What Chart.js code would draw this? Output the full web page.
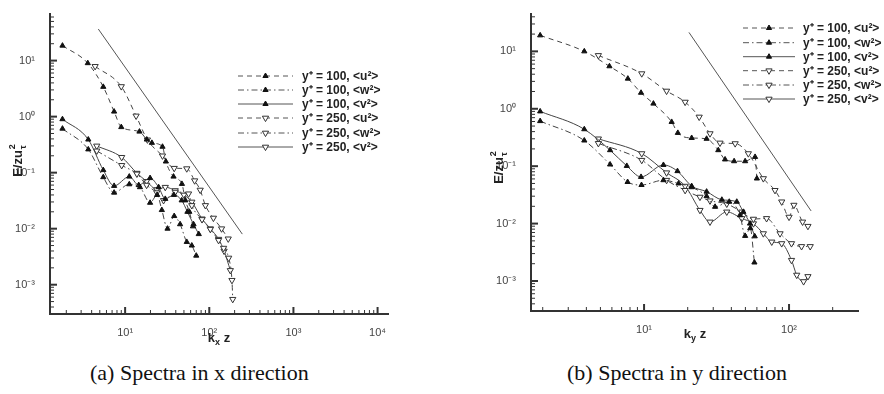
<!DOCTYPE html>
<html><head><meta charset="utf-8">
<script src="https://cdn.jsdelivr.net/npm/chart.js@4.4.1/dist/chart.umd.min.js"></script>
<style>
body{margin:0;background:#fff;width:884px;height:394px;overflow:hidden;position:relative}
#ca{position:absolute;left:0;top:0;width:400px;height:345px}
#cb{position:absolute;left:440px;top:0;width:444px;height:345px}
.cap{position:absolute;top:360px;font-family:"Liberation Serif","Times New Roman",serif;font-size:22px;color:#111;white-space:nowrap}
</style></head><body>
<canvas id="ca" width="400" height="345"></canvas>
<canvas id="cb" width="444" height="345"></canvas>
<div class="cap" style="left:90px">(a) Spectra in x direction</div>
<div class="cap" style="left:567px">(b) Spectra in y direction</div>
<script>
// ---------- Legend labels ----------
const seriesLabels = ["y\u207A = 100, <u\u00B2>", "y\u207A = 100, <w\u00B2>", "y\u207A = 100, <v\u00B2>",
                      "y\u207A = 250, <u\u00B2>", "y\u207A = 250, <w\u00B2>", "y\u207A = 250, <v\u00B2>"];

// ---------- Panel (a): spectra in x direction ----------
const a_u100_k = [1.8, 3.6, 5.5, 7.4, 9.0, 14.8, 18.1, 20.8, 27.8, 30.5, 37.6, 47.3, 52, 58, 64];
const a_u100_E = [18.5, 9.0, 3.4, 1.23, 0.65, 0.54, 0.39, 0.34, 0.29, 0.158, 0.085, 0.063, 0.032, 0.02, 0.011];
const a_w100_k = [1.8, 3.65, 5.5, 7.4, 11.2, 15, 19.8, 24, 27.3, 31.9, 38.3, 45, 54, 62, 70];
const a_w100_E = [0.61, 0.26, 0.083, 0.044, 0.062, 0.055, 0.029, 0.04, 0.0215, 0.01, 0.0168, 0.012, 0.0058, 0.005, 0.0033];
const a_v100_k = [1.8, 3.65, 5.5, 7.4, 11.2, 14.5, 19.8, 25, 30, 38, 47, 55, 65, 75];
const a_v100_E = [0.9, 0.39, 0.111, 0.058, 0.085, 0.06, 0.08, 0.055, 0.034, 0.04, 0.032, 0.02, 0.012, 0.008];
const a_u250_k = [4.4, 9.0, 13.5, 18.4, 27.8, 38.3, 54, 67, 78, 90, 112, 140, 168];
const a_u250_E = [7.9, 3.45, 1.03, 0.386, 0.2, 0.12, 0.118, 0.072, 0.049, 0.026, 0.0155, 0.01, 0.0066];
const a_w250_k = [4.6, 9.1, 13.8, 18, 23.8, 28.6, 39.4, 56.7, 62, 82, 103, 129, 148, 170, 186, 190];
const a_w250_E = [0.245, 0.135, 0.095, 0.06, 0.044, 0.032, 0.045, 0.042, 0.026, 0.0146, 0.0098, 0.0062, 0.0045, 0.003, 0.0012, 0.00055];
const a_v250_k = [4.6, 9.1, 13.8, 18, 23.8, 30, 39.4, 50, 62, 82, 103, 129, 150, 178];
const a_v250_E = [0.3, 0.188, 0.098, 0.07, 0.05, 0.055, 0.048, 0.04, 0.03, 0.015, 0.01, 0.0065, 0.004, 0.0018];
const a_ref_k = [4.8, 247];
const a_ref_E = [36.6, 0.008];

// ---------- Panel (b): spectra in y direction ----------
const b_u100_k = [1.92, 3.87, 5.77, 7.73, 9.53, 11.6, 15.5, 17.1, 21.3, 27, 32.5, 36.2, 41.8, 49.8, 58.3, 60];
const b_u100_E = [19, 10, 5.5, 3.35, 1.9, 1.23, 0.59, 0.38, 0.31, 0.3, 0.19, 0.131, 0.122, 0.122, 0.145, 0.061];
const b_w100_k = [1.92, 3.87, 5.83, 7.7, 9.6, 13.6, 17.3, 21.3, 27, 30.9, 38.7, 45.9, 49.8, 54, 57.7];
const b_w100_E = [0.61, 0.28, 0.107, 0.053, 0.047, 0.057, 0.05, 0.043, 0.03, 0.0196, 0.024, 0.014, 0.0061, 0.0083, 0.0021];
const b_v100_k = [1.92, 3.87, 5.83, 7.6, 9.53, 13.6, 17, 21.3, 27, 34.4, 43.6, 48.4, 53.8, 58];
const b_v100_E = [0.9, 0.44, 0.19, 0.101, 0.065, 0.105, 0.082, 0.045, 0.036, 0.026, 0.024, 0.016, 0.01, 0.006];
const b_u250_k = [4.84, 9.64, 14.3, 19.2, 24, 28.5, 33.4, 42.5, 52.4, 66.5, 80, 89, 100, 108, 124, 135];
const b_u250_E = [8.5, 4.1, 2.04, 1.31, 0.72, 0.37, 0.254, 0.248, 0.166, 0.061, 0.038, 0.024, 0.013, 0.021, 0.0107, 0.009];
const b_w250_k = [4.84, 9.64, 14.3, 19.2, 24.3, 28.5, 37.2, 47.2, 56.8, 70, 86.7, 104, 122, 140];
const b_w250_E = [0.25, 0.127, 0.057, 0.038, 0.029, 0.025, 0.022, 0.016, 0.012, 0.0123, 0.0067, 0.0045, 0.004, 0.004];
const b_v250_k = [4.84, 9.64, 14.3, 19.2, 24.3, 28.5, 37.2, 47.2, 56.8, 66.5, 76, 89, 104, 113, 126, 135];
const b_v250_E = [0.30, 0.166, 0.077, 0.045, 0.0171, 0.0107, 0.016, 0.0123, 0.01, 0.0067, 0.0048, 0.0045, 0.0023, 0.00127, 0.00098, 0.0012];
const b_ref_k = [20.4, 142];
const b_ref_E = [21.4, 0.0166];

// ---------- styles ----------
const DASH = {u: [5, 4], w: [6, 3, 1.5, 3], v: []};
const SUP = {'-': '\u207B', '0': '\u2070', '1': '\u00B9', '2': '\u00B2', '3': '\u00B3', '4': '\u2074'};
const supExp = e => String(e).split('').map(c => SUP[c]).join('');

function pts(k, E) { return k.map((x, i) => ({x: x, y: E[i]})); }

function seriesDef(k, E, comp, open) {
  return {
    data: pts(k, E),
    borderColor: '#444', borderWidth: 1, borderDash: DASH[comp],
    cubicInterpolationMode: 'monotone',
    pointStyle: 'triangle', pointRotation: open ? 180 : 0,
    pointRadius: open ? 3.6 : 3, pointBorderWidth: 1,
    pointBackgroundColor: open ? '#fff' : '#111',
    pointBorderColor: open ? '#333' : '#111',
    _comp: comp, _open: open
  };
}

function buildTicks(min, max) {
  const out = [];
  for (let e = Math.floor(Math.log10(min)); e <= Math.ceil(Math.log10(max)); e++) {
    for (let m = 1; m <= 9; m++) {
      const v = m * Math.pow(10, e);
      if (v >= min * 0.999 && v <= max * 1.001) out.push({value: v, pw: m === 1, e: e});
    }
  }
  return out;
}

const deco = {
  id: 'deco',
  afterDraw(chart, args, o) {
    const ctx = chart.ctx, ca = chart.chartArea;
    ctx.save();
    // inward ticks
    ['x', 'y'].forEach(id => {
      const s = chart.scales[id];
      s.ticks.forEach(t => {
        const p = s.getPixelForValue(t.value);
        ctx.beginPath();
        ctx.strokeStyle = '#333';
        ctx.lineWidth = t.pw ? 2 : 1;
        const L = t.pw ? 7 : 4;
        if (id === 'x') { ctx.moveTo(p, ca.bottom); ctx.lineTo(p, ca.bottom - L); }
        else { ctx.moveTo(ca.left, p); ctx.lineTo(ca.left + L, p); }
        ctx.stroke();
      });
    });
    // y title: E/zu_tau^2
    ctx.fillStyle = '#222';
    ctx.translate(o.yTitle[0], o.yTitle[1]);
    ctx.rotate(-Math.PI / 2);
    ctx.font = 'bold 13px "Liberation Sans", Arial, sans-serif';
    ctx.textBaseline = 'alphabetic';
    const main = 'E/zu';
    const w1 = ctx.measureText(main).width;
    const tot = w1 + 7;
    ctx.fillText(main, -tot / 2, 5);
    ctx.font = 'bold 9px "Liberation Sans", Arial, sans-serif';
    ctx.fillText('2', -tot / 2 + w1 + 1, -2);
    ctx.fillText('\u03C4', -tot / 2 + w1 + 1, 9);
    ctx.setTransform(1, 0, 0, 1, 0, 0);
    // x title: k_? z
    ctx.font = 'bold 13px "Liberation Sans", Arial, sans-serif';
    const kw = ctx.measureText('k').width;
    ctx.font = 'bold 9px "Liberation Sans", Arial, sans-serif';
    const sw = ctx.measureText(o.xSub).width;
    ctx.font = 'bold 13px "Liberation Sans", Arial, sans-serif';
    const zw = ctx.measureText(' z').width;
    let x0 = o.xTitle[0] - (kw + sw + zw) / 2;
    const yb = o.xTitle[1] + 5;
    ctx.fillText('k', x0, yb);
    ctx.font = 'bold 9px "Liberation Sans", Arial, sans-serif';
    ctx.fillText(o.xSub, x0 + kw, yb + 3);
    ctx.font = 'bold 13px "Liberation Sans", Arial, sans-serif';
    ctx.fillText(' z', x0 + kw + sw, yb);
    // legend
    const ds = chart.data.datasets.filter(d => d._comp);
    ds.forEach((d, i) => {
      const y = o.legRows[i];
      ctx.beginPath();
      ctx.setLineDash(DASH[d._comp]);
      ctx.strokeStyle = '#555';
      ctx.lineWidth = 1;
      ctx.moveTo(o.legLine[0], y); ctx.lineTo(o.legLine[1], y);
      ctx.stroke();
      ctx.setLineDash([]);
      ctx.fillStyle = d.pointBackgroundColor;
      ctx.strokeStyle = d.pointBorderColor;
      Chart.helpers.drawPoint(ctx, {pointStyle: 'triangle', rotation: d.pointRotation, radius: d.pointRadius, borderWidth: 1},
        (o.legLine[0] + o.legLine[1]) / 2, y);
      ctx.fillStyle = '#222';
      ctx.font = 'bold 12px "Liberation Sans", Arial, sans-serif';
      ctx.textBaseline = 'middle';
      ctx.fillText(seriesLabels[i], o.legText, y + 1);
    });
    ctx.restore();
  }
};

function makeChart(id, P) {
  const datasets = [
    seriesDef(P.u100k, P.u100E, 'u', false),
    seriesDef(P.w100k, P.w100E, 'w', false),
    seriesDef(P.v100k, P.v100E, 'v', false),
    seriesDef(P.u250k, P.u250E, 'u', true),
    seriesDef(P.w250k, P.w250E, 'w', true),
    seriesDef(P.v250k, P.v250E, 'v', true),
    {data: pts(P.refk, P.refE), borderColor: '#555', borderWidth: 1, pointRadius: 0, tension: 0}
  ];
  const tickFont = {family: '"Liberation Sans", Arial, sans-serif', size: 11};
  const cb = (v, i, ticks) => (ticks[i] && ticks[i].pw) ? '10' + supExp(ticks[i].e) : '';
  return new Chart(document.getElementById(id), {
    type: 'line',
    data: {datasets: datasets},
    options: {
      responsive: false, animation: false, devicePixelRatio: 1,
      layout: {padding: {top: P.pad[0], right: P.pad[1], left: 0, bottom: 0}},
      plugins: {legend: {display: false}, tooltip: {enabled: false}, deco: P.deco},
      scales: {
        x: {
          type: 'logarithmic', min: P.xr[0], max: P.xr[1],
          afterBuildTicks: s => { s.ticks = buildTicks(P.xr[0], P.xr[1]); },
          afterFit: s => { s.height = P.xH; },
          grid: {display: false},
          border: {display: true, color: '#333', width: 2},
          ticks: {autoSkip: false, maxRotation: 0, padding: 4, color: '#444', font: tickFont, callback: cb}
        },
        y: {
          type: 'logarithmic', min: P.yr[0], max: P.yr[1],
          afterBuildTicks: s => { s.ticks = buildTicks(P.yr[0], P.yr[1]); },
          afterFit: s => { s.width = P.yW; },
          grid: {display: false},
          border: {display: true, color: '#333', width: 2},
          ticks: {autoSkip: false, padding: 7, color: '#444', font: tickFont, callback: cb}
        }
      }
    },
    plugins: [deco]
  });
}

makeChart('ca', {
  u100k: a_u100_k, u100E: a_u100_E, w100k: a_w100_k, w100E: a_w100_E, v100k: a_v100_k, v100E: a_v100_E,
  u250k: a_u250_k, u250E: a_u250_E, w250k: a_w250_k, w250E: a_w250_E, v250k: a_v250_k, v250E: a_v250_E,
  refk: a_ref_k, refE: a_ref_E,
  xr: [1.28, 13300], yr: [3.45e-4, 69], pad: [5, 12], xH: 31, yW: 50,
  deco: {yTitle: [17, 160], xTitle: [219, 337], xSub: 'x', legRows: [76, 90, 104, 118, 133, 147], legLine: [238, 293], legText: 302}
});
makeChart('cb', {
  u100k: b_u100_k, u100E: b_u100_E, w100k: b_w100_k, w100E: b_w100_E, v100k: b_v100_k, v100E: b_v100_E,
  u250k: b_u250_k, u250E: b_u250_E, w250k: b_w250_k, w250E: b_w250_E, v250k: b_v250_k, v250E: b_v250_E,
  refk: b_ref_k, refE: b_ref_E,
  xr: [1.66, 299], yr: [3.16e-4, 45.5], pad: [13, 26], xH: 34, yW: 91,
  deco: {yTitle: [58, 167], xTitle: [255, 333], xSub: 'y', legRows: [28, 42.7, 56.7, 70.7, 85, 99], legLine: [303, 355], legText: 363}
});
</script>
</body></html>
